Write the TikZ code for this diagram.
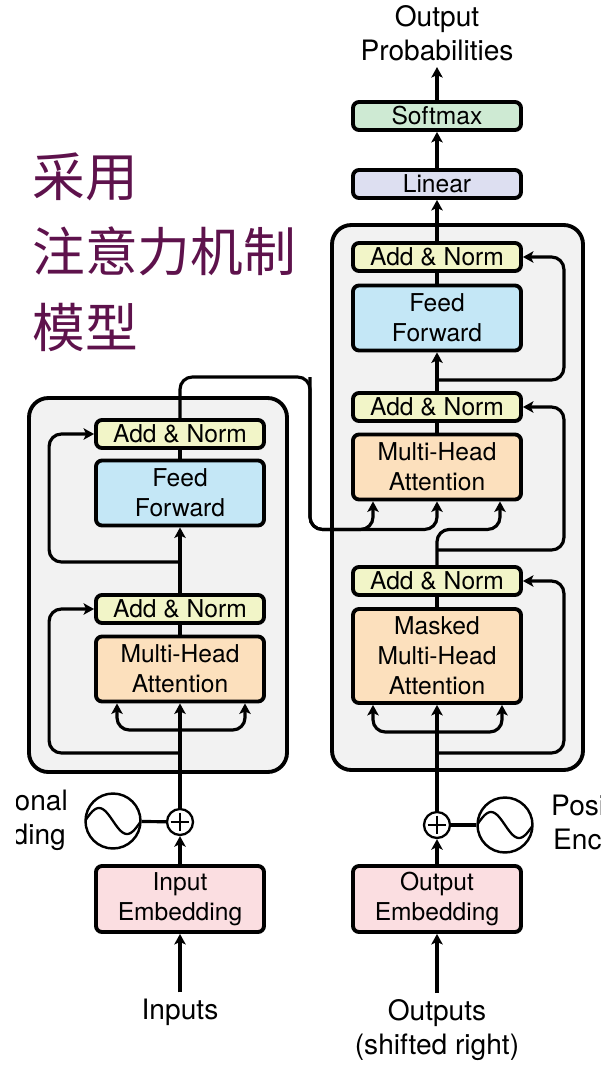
\documentclass[tikz,border=0pt]{standalone}
\usepackage{fontspec}
\setmainfont{TeX Gyre Heros}
\newfontfamily\cjk{Noto Sans CJK SC}
\usepackage{tikz}
\usepackage{xcolor}
\usetikzlibrary{positioning,arrows.meta,calc}
\definecolor{normyellow}{RGB}{242,245,200}
\definecolor{ffblue}{RGB}{196,231,246}
\definecolor{attnorange}{RGB}{252,224,189}
\definecolor{embpink}{RGB}{251,222,225}
\definecolor{linpurple}{RGB}{221,223,241}
\definecolor{smgreen}{RGB}{206,234,211}
\definecolor{stackgray}{RGB}{242,242,242}
\definecolor{titlepurple}{RGB}{94,18,76}
\tikzset{
    blk/.style={
        rectangle,
        draw=black,
        line width=2.2pt,
        rounded corners=3.4pt,
        minimum width=3.36cm,
        inner sep=0pt,
        align=center,
        font=\fontsize{14}{17}\selectfont
    },
    norm/.style={blk, fill=normyellow, minimum height=0.56cm},
    ffwd/.style={blk, fill=ffblue, minimum height=1.30cm},
    attn/.style={blk, fill=attnorange, minimum height=1.30cm},
    emb/.style={blk, fill=embpink, minimum height=1.32cm},
    stack/.style={draw=black, fill=stackgray, line width=2.2pt, rounded corners=11pt},
    lbl/.style={align=center, font=\fontsize{16}{19.5}\selectfont},
    sumnode/.style={
        circle,
        draw=black,
        fill=white,
        line width=1.3pt,
        minimum size=0.52cm,
        inner sep=0pt,
        path picture={
            \draw[line width=1.2pt]
                ([xshift=2pt]path picture bounding box.west) -- ([xshift=-2pt]path picture bounding box.east)
                ([yshift=-2pt]path picture bounding box.north) -- ([yshift=2pt]path picture bounding box.south);
        }
    },
    wave/.style={
        circle,
        draw=black,
        fill=white,
        line width=1.4pt,
        minimum size=1.1cm,
        inner sep=0pt,
        path picture={
            \draw[line width=1.3pt, shift={(path picture bounding box.center)}]
                plot[domain=-28:28, samples=40, smooth] (\x,{13*sin(\x/28*180)});
        }
    },
    arr/.style={-{Stealth[length=6pt,width=6.5pt,inset=1.5pt]}, line width=1.8pt, rounded corners=7pt},
    link/.style={line width=1.8pt, rounded corners=7pt}
}

\begin{document}
\begin{tikzpicture}[x=0.02cm,y=-0.02cm]
\clip (0,0) rectangle (600,1066);

% title
\node[anchor=west, align=left, text=titlepurple, inner sep=0pt,
      font=\cjk\fontsize{30}{43}\selectfont] (title) at (32,252) {采用\\注意力机制\\模型};

% encoder and decoder stacks
\draw[stack] (29,398) rectangle (287,772);
\draw[stack] (332,225) rectangle (583,770);

% encoder
\node[norm] (encAN2) at (180,434) {Add \& Norm};
\node[ffwd] (encFF) at (180,493) {Feed\\Forward};
\node[norm] (encAN1) at (180,609) {Add \& Norm};
\node[attn] (encMHA) at (180,669) {Multi-Head\\Attention};
\node[sumnode] (plusL) at (180,822) {};
\node[wave] (waveL) at (113,821) {};
\node[emb] (inEmb) at (180,899) {Input\\Embedding};
\node[lbl] (inputs) at (180,1012) {Inputs};
\begin{scope}
\clip (16,770) rectangle (100,870);
\node[lbl, anchor=east] (peTextL) at (74,820) {Positional\\Encoding};
\end{scope}

% decoder
\node[blk, fill=smgreen, minimum height=0.56cm] (softmax) at (437,116) {Softmax};
\node[blk, fill=linpurple, minimum height=0.56cm] (linear) at (437,184) {Linear};
\node[norm] (decAN3) at (437,257) {Add \& Norm};
\node[ffwd] (decFF) at (437,318) {Feed\\Forward};
\node[norm] (decAN2) at (437,407) {Add \& Norm};
\node[attn] (decMHA) at (437,467) {Multi-Head\\Attention};
\node[norm] (decAN1) at (437,581) {Add \& Norm};
\node[attn, minimum height=1.88cm] (decMMHA) at (437,656) {Masked\\Multi-Head\\Attention};
\node[sumnode] (plusR) at (437,825) {};
\node[wave] (waveR) at (505,825) {};
\node[emb] (outEmb) at (437,899) {Output\\Embedding};
\node[lbl] (outputs) at (437,1030) {Outputs\\(shifted right)};
\node[lbl] (probs) at (437,33) {Output\\Probabilities};
\node[lbl, anchor=west] (peTextR) at (545,825) {Positional\\Encoding};

\coordinate (encSplit) at (180,730);
\coordinate (encRes1) at (180,753);
\coordinate (encRes2) at (180,562);
\coordinate (encTurn) at (310,377);
\coordinate (decSplit) at (437,732);
\coordinate (decRes1) at (437,753);
\coordinate (decRes2) at (437,550);
\coordinate (decRes3) at (437,380);

% encoder connections
\draw[arr] (inputs) -- (inEmb);
\draw[arr] (inEmb) -- (plusL);
\draw[link] (waveL) -- (plusL);
\draw[arr] (plusL) -- (encMHA);
\draw[arr] (encSplit) -| ($(encMHA.south)+(-63,0)$);
\draw[arr] (encSplit) -| ($(encMHA.south)+(65,0)$);
\draw[link] (encMHA) -- (encAN1);
\draw[arr] (encAN1) -- (encFF);
\draw[link] (encFF) -- (encAN2);
\draw[arr] (encRes1) -| ($(encAN1.west)+(-45,0)$) -- (encAN1.west);
\draw[arr] (encRes2) -| ($(encAN2.west)+(-45,0)$) -- (encAN2.west);
\draw[arr] (encAN2.north) |- (encTurn) |- ($(decMHA.south)+(-64,28)$) -- ($(decMHA.south)+(-64,0)$);
\draw[arr] (encTurn) |- ($(decMHA.south)+(0,28)$) -- (decMHA.south);

% decoder connections
\draw[arr] (outputs) -- (outEmb);
\draw[arr] (outEmb) -- (plusR);
\draw[link] (waveR) -- (plusR);
\draw[arr] (plusR) -- (decMMHA);
\draw[arr] (decSplit) -| ($(decMMHA.south)+(-64,0)$);
\draw[arr] (decSplit) -| ($(decMMHA.south)+(65,0)$);
\draw[link] (decMMHA) -- (decAN1);
\draw[arr] (decAN1.north) |- ($(decMHA.south)+(63,28)$) -- ($(decMHA.south)+(63,0)$);
\draw[link] (decMHA) -- (decAN2);
\draw[arr] (decAN2) -- (decFF);
\draw[link] (decFF) -- (decAN3);
\draw[arr] (decAN3) -- (linear);
\draw[arr] (linear) -- (softmax);
\draw[arr] (softmax) -- (probs);
\draw[arr] (decRes1) -| ($(decAN1.east)+(41,0)$) -- (decAN1.east);
\draw[arr] (decRes2) -| ($(decAN2.east)+(41,0)$) -- (decAN2.east);
\draw[arr] (decRes3) -| ($(decAN3.east)+(41,0)$) -- (decAN3.east);
\end{tikzpicture}
\end{document}
